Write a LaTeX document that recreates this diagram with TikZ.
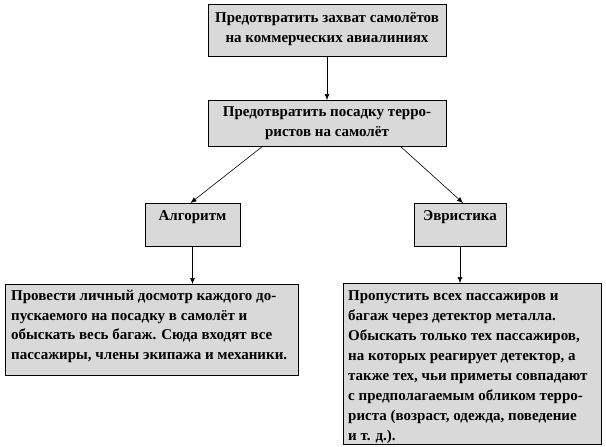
\documentclass[tikz,border=0pt]{standalone}
\usepackage{fontspec}
\setmainfont{Liberation Serif}[BoldFont={Liberation Serif Bold}]
\newfontfamily\tnrb{Liberation Serif Bold}
\usetikzlibrary{arrows.meta}
\begin{document}
\begin{tikzpicture}[x=1pt,y=1pt,
  box/.style={draw=black, line width=0.8pt, fill=boxgray, inner sep=0pt, outer sep=0pt},
  txt/.style={font=\tnrb\fontsize{15}{20.5}\selectfont, inner sep=0pt, align=center},
  ltxt/.style={font=\tnrb\fontsize{15}{19.5}\selectfont, inner sep=0pt, align=left},
  arr/.style={draw=black, line width=0.6pt, -{Latex[length=6pt,width=5pt]}}]
\definecolor{boxgray}{RGB}{217,217,217}
\useasboundingbox (0,0) rectangle (606,-447);
% boxes
\node[box, minimum width=238, minimum height=52] (b1) at (327,-30) {};
\node[box, minimum width=238, minimum height=46] (b2) at (327,-123) {};
\node[box, minimum width=95, minimum height=43] (b3) at (192.5,-224.5) {};
\node[box, minimum width=92, minimum height=43] (b4) at (460,-224.5) {};
\node[box, minimum width=293, minimum height=91] (b5) at (151.5,-329.5) {};
\node[box, minimum width=258, minimum height=161] (b6) at (472,-363.5) {};
% texts
\node[txt, anchor=north] (t1) at (327,-12) {Предотвратить захват самолётов\\на коммерческих авиалиниях};
\node[txt, anchor=north] (t2) at (327,-106) {Предотвратить посадку терро-\\ристов на самолёт};
\node[txt] (t3) at (192.5,-217) {Алгоритм};
\node[txt] (t4) at (460,-217) {Эвристика};
\node[ltxt, anchor=north west] (t5) at (11,-290) {Провести личный досмотр каждого до-\\пускаемого на посадку в самолёт и\\обыскать весь багаж. Сюда входят все\\пассажиры, члены экипажа и механики.};
\node[ltxt, anchor=north west, font=\tnrb\fontsize{15}{20}\selectfont] (t6) at (348,-290) {Пропустить всех пассажиров и\\багаж через детектор металла.\\Обыскать только тех пассажиров,\\на которых реагирует детектор, а\\также тех, чьи приметы совпадают\\с предполагаемым обликом терро-\\риста (возраст, одежда, поведение\\и т. д.).};
% connectors
\draw[arr] (b1.south) -- (b2.north);
\draw[arr] ([xshift=-64]b2.south) -- ([xshift=-2]b3.north);
\draw[arr] ([xshift=73]b2.south) -- ([xshift=3]b4.north);
\draw[arr] (b3.south) -- (b3.south |- b5.north);
\draw[arr] (b4.south) -- (b4.south |- b6.north);
\end{tikzpicture}
\end{document}
